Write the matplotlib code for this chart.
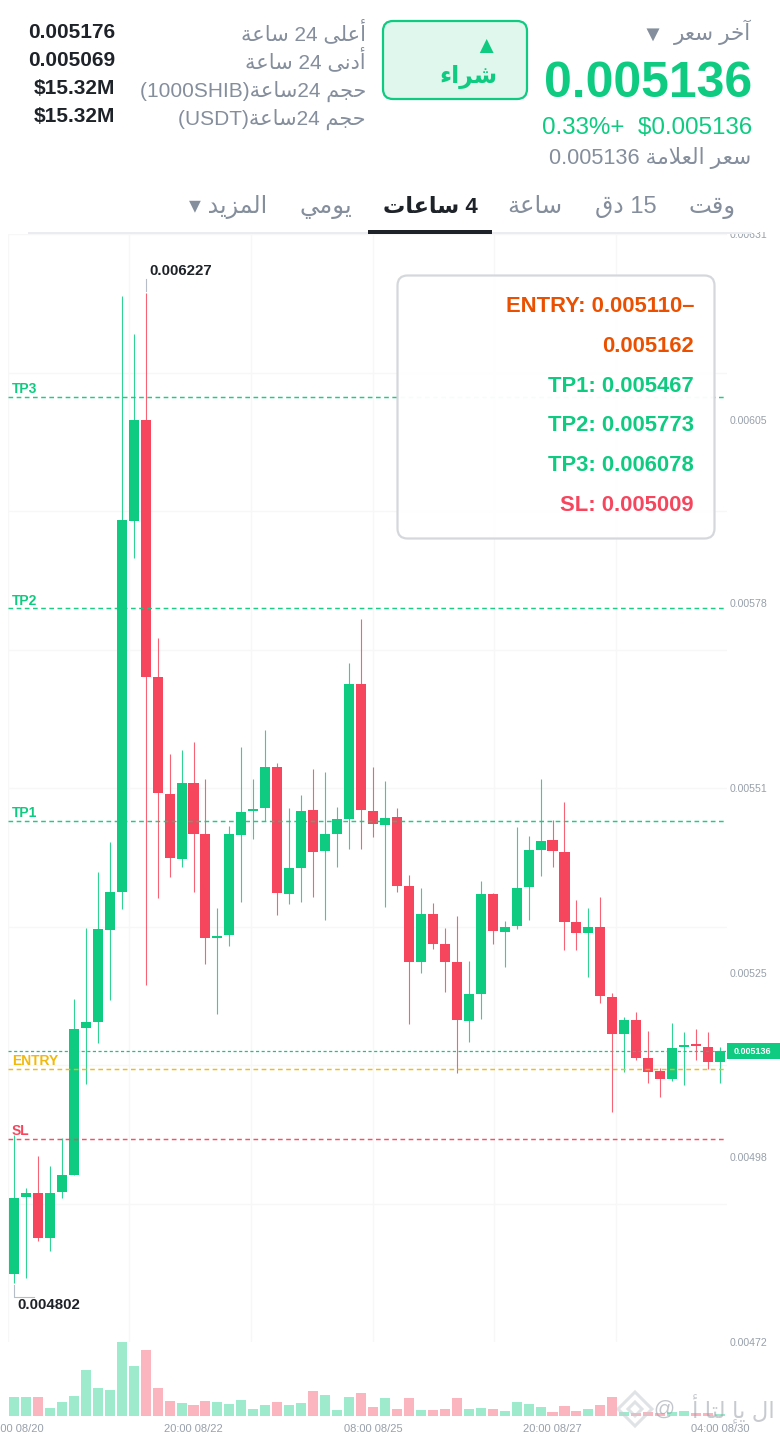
import re
import numpy as np
import matplotlib
matplotlib.use('Agg')
import matplotlib.pyplot as plt
from matplotlib.patches import FancyBboxPatch, Rectangle, RegularPolygon

# prices are in millionths (5136 = 0.005136)
opens = [4814.2, 4925.1, 4930.8, 4865.6, 4931.8, 4957.2, 5168.0, 5177.5, 5310.1, 5364.8,
         5899.1, 6044.6, 5674.4, 5505.5, 5412.3, 5521.3, 5448.3, 5298.1, 5302.9, 5446.9,
         5481.0, 5484.9, 5544.4, 5361.9, 5398.9, 5482.5, 5423.0, 5447.9, 5469.1, 5663.9,
         5481.4, 5460.9, 5471.9, 5373.0, 5264.0, 5332.7, 5289.9, 5264.0, 5179.0, 5217.0,
         5361.9, 5307.2, 5314.9, 5371.1, 5425.3, 5438.8, 5421.5, 5320.7, 5305.7, 5313.5,
         5212.7, 5160.3, 5179.6, 5125.7, 5106.5, 5095.0, 5141.1, 5145.0, 5141.5, 5119.1]
closes = [4923.6, 4930.8, 4865.6, 4930.8, 4956.7, 5167.5, 5177.5, 5310.6, 5364.4, 5899.7,
          6044.6, 5674.0, 5506.9, 5412.9, 5521.3, 5448.3, 5298.1, 5301.4, 5447.9, 5479.6,
          5484.3, 5544.4, 5362.9, 5398.5, 5480.6, 5422.0, 5447.9, 5469.5, 5663.9, 5482.0,
          5461.9, 5470.5, 5373.0, 5264.0, 5332.7, 5289.9, 5264.0, 5180.0, 5217.0, 5361.5,
          5308.2, 5314.4, 5369.7, 5424.8, 5437.8, 5423.0, 5321.1, 5304.8, 5313.5, 5214.1,
          5160.3, 5180.4, 5125.7, 5105.1, 5095.0, 5139.7, 5144.0, 5142.1, 5119.1, 5135.8]
highs = [5014.4, 4938.5, 4984.5, 4969.7, 5009.6, 5210.2, 5312.1, 5392.7, 5436.4, 6222.8,
         6167.6, 6226.7, 5729.8, 5562.7, 5568.9, 5580.0, 5527.5, 5341.3, 5459.4, 5573.6,
         5527.1, 5597.7, 5549.7, 5485.3, 5504.5, 5541.5, 5536.8, 5486.8, 5693.7, 5757.6,
         5544.4, 5524.7, 5485.3, 5388.4, 5369.7, 5348.5, 5312.5, 5329.8, 5265.0, 5380.6,
         5362.5, 5322.6, 5458.4, 5445.0, 5527.5, 5467.6, 5494.4, 5352.8, 5340.9, 5357.6,
         5218.5, 5184.7, 5191.5, 5164.6, 5110.4, 5175.7, 5162.3, 5166.6, 5162.3, 5141.5]
lows = [4801.6, 4808.4, 4862.1, 4847.3, 4923.2, 4956.7, 5087.4, 5147.3, 5209.2, 5340.3,
        5845.0, 5230.0, 5355.3, 5386.0, 5400.8, 5363.9, 5261.1, 5189.1, 5286.2, 5350.4,
        5440.3, 5466.6, 5330.8, 5347.1, 5350.4, 5357.6, 5324.0, 5400.8, 5425.8, 5426.7,
        5444.0, 5343.2, 5364.8, 5173.8, 5248.1, 5281.8, 5220.8, 5104.1, 5147.9, 5181.0,
        5289.9, 5256.8, 5311.5, 5324.0, 5387.0, 5400.8, 5280.8, 5280.8, 5242.4, 5204.0,
        5047.9, 5105.5, 5121.9, 5089.7, 5069.1, 5092.1, 5086.8, 5122.4, 5109.4, 5089.3]
volumes = [18.7, 19, 19.3, 7.7, 14, 20, 45.7, 28, 26, 74,
           50.3, 66, 27.7, 15, 13, 11, 15, 13.7, 12, 15.7,
           7, 10.7, 14, 10.7, 12.7, 24.7, 21, 5.7, 19, 22.7,
           8.7, 18, 6.7, 17.7, 6, 5.7, 7, 17.7, 6.7, 8,
           6.7, 5, 14.3, 12, 9.3, 4.3, 9.7, 4.7, 7, 11,
           18.7, 4, 2.7, 4.3, 2.7, 3.7, 4.7, 2.7, 2.7, 1.7]

time_idx = [0, 15, 30, 45, 59]
time_labels = ['08:00 08/20', '20:00 08/22', '08:00 08/25', '20:00 08/27', '04:00 08/30']
price_ticks = [6312.1, 6044.9, 5780.6, 5514.1, 5247.7, 4982.7, 4716.2]
price_labels = ['0.00631', '0.00605', '0.00578', '0.00551', '0.00525', '0.00498', '0.00472']
grid_prices = [4716.2 + 199.5 * k for k in range(9)]
grid_idx = [-0.5, 9.65, 19.82, 30.0, 40.15, 50.33]
level_names = ['TP3', 'TP2', 'TP1', 'ENTRY', 'SL']
level_prices = [6078, 5773, 5467, 5110, 5009]
last_price = 5135.8

GREEN = '#0ecb81'
RED = '#f6465d'
YELLOW = '#f0b90b'
ORANGE = '#ea5000'
GRAY = '#848e9c'
DARK = '#1e2329'
FONT = ['Liberation Sans', 'DejaVu Sans']
plt.rcParams['font.family'] = FONT
plt.rcParams['text.parse_math'] = False

# matplotlib does not shape arabic, so map to presentation forms and reverse
FORMS = {'ء': (0xFE80, 1), 'آ': (0xFE81, 2), 'أ': (0xFE83, 2), 'إ': (0xFE87, 2), 'ا': (0xFE8D, 2),
         'ة': (0xFE93, 2), 'ت': (0xFE95, 4), 'ج': (0xFE9D, 4), 'ح': (0xFEA1, 4), 'خ': (0xFEA5, 4),
         'د': (0xFEA9, 2), 'ر': (0xFEAD, 2), 'ز': (0xFEAF, 2), 'س': (0xFEB1, 4), 'ش': (0xFEB5, 4),
         'ع': (0xFEC9, 4), 'ق': (0xFED5, 4), 'ل': (0xFEDD, 4), 'م': (0xFEE1, 4), 'ن': (0xFEE5, 4),
         'و': (0xFEED, 2), 'ى': (0xFEEF, 2), 'ي': (0xFEF1, 4)}
LAM_ALEF = {'ا': 0xFEFB, 'أ': 0xFEF7, 'إ': 0xFEF9, 'آ': 0xFEF5}


def shape(word):
    out = []
    joins = False
    i = 0
    while i < len(word):
        c = word[i]
        if c == 'ل' and i + 1 < len(word) and word[i + 1] in LAM_ALEF:
            out.append(chr(LAM_ALEF[word[i + 1]] + (1 if joins else 0)))
            joins = False
            i += 2
            continue
        base, n = FORMS[c]
        next_ok = i + 1 < len(word) and n == 4
        if joins and next_ok:
            form = 3
        elif joins:
            form = 1
        elif next_ok:
            form = 2
        else:
            form = 0
        out.append(chr(base + (form if n > 1 else 0)))
        joins = next_ok
        i += 1
    return ''.join(out)


def ar(text):
    parts = re.split(r'([\u0600-\u06FF]+|\s+)', text)
    parts = [shape(p)[::-1] if re.match(r'[\u0600-\u06FF]', p) else p for p in parts]
    return ''.join(parts[::-1])


W, H = 780, 1434
fig = plt.figure(figsize=(W / 100, H / 100), dpi=100, facecolor='white')


def px_axes(x0, y0, x1, y1):
    return fig.add_axes([x0 / W, 1 - y1 / H, (x1 - x0) / W, (y1 - y0) / H])


# price panel
ax = px_axes(8, 234, 727, 1342)
x = np.arange(len(opens))
opens_a, closes_a = np.array(opens), np.array(closes)
up = closes_a >= opens_a
colors = np.where(up, GREEN, RED)
ax.vlines(x, lows, highs, colors=colors, lw=0.8, alpha=0.85, zorder=2)
ax.bar(x, np.maximum(np.abs(closes_a - opens_a), 2.5), bottom=np.minimum(opens_a, closes_a),
       width=0.84, color=colors, zorder=2.5)
ax.set_xlim(-0.501, 59.58)
ax.set_ylim(4716.2, 6312.1)
ax.yaxis.tick_right()
ax.set_yticks(price_ticks, price_labels)
ax.set_yticks(grid_prices, minor=True)
ax.set_xticks(grid_idx, [''] * len(grid_idx))
ax.tick_params(axis='both', which='both', length=0)
ax.tick_params(axis='y', which='major', labelsize=7.6, labelcolor='#98a0ab', pad=2)
ax.grid(which='minor', axis='y', color='#f7f7f8', lw=1)
ax.grid(which='major', axis='x', color='#f7f7f8', lw=1)
ax.set_axisbelow(True)
for s in ax.spines.values():
    s.set_visible(False)

for name, lvl in zip(level_names, level_prices):
    col = YELLOW if name == 'ENTRY' else RED if name == 'SL' else GREEN
    ax.axhline(lvl, color=col, lw=1.05, ls=(0, (3.2, 2.4)), alpha=0.95, zorder=3)
    ax.annotate(name, xy=(0, lvl), xycoords=('axes fraction', 'data'), xytext=(4, 3.5),
                textcoords='offset pixels', color=col, fontsize=10, fontweight='bold',
                va='baseline', ha='left', zorder=4)
ax.axhline(last_price, color=GREEN, lw=0.9, ls=(0, (2.5, 2)), zorder=3)

# highest / lowest markers
i_hi = int(np.argmax(highs))
i_lo = int(np.argmin(lows))
ax.plot([i_hi, i_hi], [highs[i_hi] + 3, highs[i_hi] + 20], color='#b7bdc6', lw=0.8, zorder=3)
ax.annotate('0.006227', xy=(i_hi, highs[i_hi]), xytext=(4, 18), textcoords='offset pixels',
            fontsize=10.8, fontweight='bold', color=DARK, va='baseline')
ax.plot([i_lo, i_lo, i_lo + 1.7], [lows[i_lo] - 3, lows[i_lo] - 20, lows[i_lo] - 20],
        color='#b7bdc6', lw=0.8, zorder=3)
ax.annotate('0.004802', xy=(i_lo, lows[i_lo]), xytext=(3.5, -26), textcoords='offset pixels',
            fontsize=10.8, fontweight='bold', color=DARK, va='baseline')

# volume panel
vax = px_axes(8, 1342, 727, 1416)
vax.bar(x, volumes, width=0.84, color=colors, alpha=0.4)
vax.set_xlim(-0.501, 59.58)
vax.set_ylim(0, 74)
vax.set_yticks([])
vax.set_xticks(time_idx, time_labels)
vax.tick_params(axis='x', length=0, labelsize=8, labelcolor='#98a0ab', pad=6)
for s in vax.spines.values():
    s.set_visible(False)
vax.patch.set_alpha(0)

# header, tabs and boxes, in pixel coordinates
ov = fig.add_axes([0, 0, 1, 1], zorder=5)
ov.set_xlim(0, W)
ov.set_ylim(H, 0)
ov.axis('off')
ov.add_patch(Rectangle((0, 0), W, 231.5, fc='white', ec='none'))
ov.add_patch(Rectangle((28, 231.5), 724, 2.5, fc='#eaecef', ec='none'))
ov.add_patch(Rectangle((368, 230), 124, 4, fc=DARK, ec='none'))


def label(px, py, s, size, color=GRAY, weight='normal', ha='right', alpha=None):
    ov.text(px, py, s, fontsize=size, color=color, fontweight=weight, ha=ha, va='baseline',
            alpha=alpha, family=FONT)


label(751, 40, ar('آخر سعر'), 15.5, GRAY)
label(664, 41, '▼', 16, GRAY)
label(752, 97, '0.005136', 36, GREEN, 'bold')
label(752, 134, '0.33%+  $0.005136', 17.35, GREEN)
label(751, 164, ar('سعر العلامة 0.005136'), 15.7, GRAY)

ov.add_patch(FancyBboxPatch((383, 21), 144, 78, boxstyle='round,pad=0,rounding_size=10',
                            fc='#dff7ec', ec=GREEN, lw=1.6))
label(486, 53, '▲', 17, GREEN, ha='center')
label(469, 83, ar('شراء'), 17, GREEN, 'bold', ha='center')

stat_names = ['أعلى 24 ساعة', 'أدنى 24 ساعة', 'حجم 24ساعة(1000SHIB)', 'حجم 24ساعة(USDT)']
stat_values = ['0.005176', '0.005069', '$15.32M', '$15.32M']
stat_y = [40, 68.5, 96.5, 125]
value_y = [38.5, 66.5, 94.5, 122.5]
for name, val, yy, vy in zip(stat_names, stat_values, stat_y, value_y):
    label(366, yy, ar(name), 15, GRAY)
    label(115, vy, val, 15, DARK, 'bold')

tab_names = ['وقت', '15 دق', 'ساعة', '4 ساعات', 'يومي', 'المزيد ▾']
tab_x = [712, 626, 535, 430, 326, 228]
tab_size = [17.5, 17, 17.5, 16, 17.5, 17]
for name, tx, ts in zip(tab_names, tab_x, tab_size):
    active = name == '4 ساعات'
    label(tx, 213, ar(name), ts, DARK if active else GRAY, 'bold' if active else 'normal', ha='center')

# levels box
ov.add_patch(FancyBboxPatch((397.5, 275.5), 317, 263, boxstyle='round,pad=0,rounding_size=10',
                            fc='white', ec='#d3d6da', lw=1.6, alpha=0.96))
box_lines = ['ENTRY: 0.005110–', '0.005162', 'TP1: 0.005467', 'TP2: 0.005773', 'TP3: 0.006078', 'SL: 0.005009']
box_colors = [ORANGE, ORANGE, GREEN, GREEN, GREEN, RED]
box_y = [312.3, 352.3, 392.3, 430.7, 470.7, 510.7]
for s, c, yy in zip(box_lines, box_colors, box_y):
    label(694, yy, s, 15.8, c, 'bold')

# last price tag
ov.add_patch(Rectangle((727, 1043), 53, 16, fc=GREEN, ec='none'))
label(752.5, 1054.5, '0.005136', 6.5, 'white', 'bold', ha='center')

# watermark
for r in [17, 7]:
    ov.add_patch(RegularPolygon((635, 1409), 4, radius=r, fc='none', ec='#c8ccd2',
                                lw=2.2, alpha=0.55))
label(775, 1417, ar('ال يإ لتا أ'), 16.5, '#9aa1ab', ha='right', alpha=0.55)
label(664, 1415, '@', 15, '#9aa1ab', ha='center', alpha=0.6)

fig.savefig('out.png', dpi=100, facecolor='white')
